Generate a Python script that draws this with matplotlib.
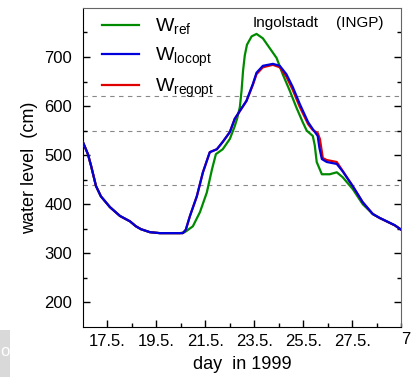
import matplotlib
matplotlib.use("Agg")
import matplotlib.pyplot as plt
from matplotlib.patches import Rectangle

plt.rcParams['font.family'] = ['Liberation Sans', 'DejaVu Sans']

# water level at Ingolstadt, May 1999
day_ref = [16.5, 16.7, 16.83, 17.03, 17.23, 17.6, 18.01, 18.42, 18.66, 18.87, 19.23,
           19.64, 20.05, 20.46, 20.66, 20.99, 21.28, 21.56, 21.77, 21.93, 22.21, 22.5,
           22.7, 22.8, 22.91, 22.98, 23.04, 23.11, 23.2, 23.39, 23.59, 23.85, 24.13,
           24.41, 24.66, 24.95, 25.22, 25.48, 25.64, 25.89, 25.97, 26.05, 26.26, 26.58,
           26.87, 27.11, 27.52, 27.93, 28.34, 28.62, 28.91, 29.24, 29.5]
w_ref = [526, 502, 478, 437, 416, 394, 376, 365, 355, 349, 343,
         341, 341, 341, 343, 355, 384, 424, 471, 502, 512, 533,
         559, 575, 598, 632, 672, 703, 725, 742, 747, 738, 718,
         698, 665, 631, 597, 567, 550, 539, 520, 486, 461, 461,
         465, 455, 431, 400, 380, 372, 365, 357, 348]

day_loc = [16.5, 16.7, 16.83, 17.03, 17.23, 17.6, 18.01, 18.42, 18.66, 18.87, 19.23,
           19.64, 20.05, 20.46, 20.58, 20.7, 20.87, 21.15, 21.4, 21.68, 21.97, 22.21,
           22.5, 22.7, 23.18, 23.44, 23.59, 23.85, 24.26, 24.54, 24.81, 25.07, 25.36,
           25.7, 25.89, 26.09, 26.16, 26.26, 26.46, 26.87, 27.11, 27.52, 27.93, 28.34,
           28.62, 28.91, 29.24, 29.5]
w_loc = [526, 502, 478, 437, 416, 394, 376, 365, 355, 349, 343,
         341, 341, 341, 341, 348, 376, 416, 465, 506, 512, 527,
         547, 574, 611, 645, 668, 682, 686, 682, 665, 639, 604,
         567, 553, 539, 515, 492, 486, 482, 467, 437, 404, 380,
         372, 365, 357, 348]

day_reg = [16.5, 16.7, 16.83, 17.03, 17.23, 17.6, 18.01, 18.42, 18.66, 18.87, 19.23,
           19.64, 20.05, 20.46, 20.58, 20.7, 20.87, 21.15, 21.4, 21.68, 21.97, 22.21,
           22.5, 22.7, 23.18, 23.44, 23.59, 23.85, 24.26, 24.54, 24.81, 25.07, 25.36,
           25.7, 25.89, 26.09, 26.18, 26.3, 26.46, 26.87, 27.11, 27.52, 27.93, 28.34,
           28.62, 28.91, 29.24, 29.5]
w_reg = [526, 502, 478, 437, 416, 394, 376, 365, 355, 349, 343,
         341, 341, 341, 341, 348, 376, 416, 465, 506, 512, 527,
         547, 574, 610, 643, 665, 679, 684, 679, 660, 633, 598,
         563, 551, 545, 533, 494, 490, 486, 468, 437, 404, 380,
         372, 365, 357, 348]

thresholds = [440, 550, 620]
xticks = [17.5, 19.5, 21.5, 23.5, 25.5, 27.5]
xticklabels = ['17.5.', '19.5.', '21.5.', '23.5.', '25.5.', '27.5.']
yticks = [200, 300, 400, 500, 600, 700]

fig = plt.figure(figsize=(4.11, 3.77), dpi=100)
ax = fig.add_axes([0.202, 0.133, 0.774, 0.846])

for t in thresholds:
    ax.axhline(t, color='#888888', lw=0.8, ls=(0, (4, 4)), zorder=1)

ax.plot(day_ref, w_ref, color='#008a00', lw=1.6, label=r'W$_{\mathregular{ref}}$', zorder=3)
ax.plot(day_reg, w_reg, color='#e00000', lw=1.6, label=r'W$_{\mathregular{regopt}}$', zorder=4)
ax.plot(day_loc, w_loc, color='#0000dd', lw=1.6, label=r'W$_{\mathregular{locopt}}$', zorder=5)

ax.set_xlim(16.5, 29.5)
ax.set_ylim(150, 800)
ax.set_xticks(xticks)
ax.set_xticklabels(xticklabels)
ax.set_xticks([18.5, 20.5, 22.5, 24.5, 26.5, 28.5, 29.5], minor=True)
ax.set_yticks(yticks)
ax.set_yticks([250, 350, 450, 550, 650, 750], minor=True)
ax.tick_params(which='both', direction='in', labelsize=12, right=True, top=False)
ax.tick_params(which='major', length=5, width=1)
ax.tick_params(which='minor', length=3, width=1)
ax.tick_params(axis='y', pad=8)
ax.tick_params(axis='x', pad=5)

for s in ['top', 'right']:
    ax.spines[s].set_color('#666666')

ax.set_xlabel('day  in 1999', fontsize=13, labelpad=5)
ax.set_ylabel('water level  (cm)', fontsize=13, labelpad=4)

h, l = ax.get_legend_handles_labels()
order = [0, 2, 1]
ax.legend([h[i] for i in order], [l[i] for i in order], loc='upper left',
          bbox_to_anchor=(0.018, 1.015), frameon=False, fontsize=14,
          handlelength=1.9, handletextpad=0.8, labelspacing=0.42, borderpad=0.2)

fig.text(253 / 411, 1 - 23 / 377, 'Ingolstadt', fontsize=11, va='center', ha='left')
fig.text(383 / 411, 1 - 23 / 377, '(INGP)', fontsize=11, va='center', ha='right')

# fragments of the neighbouring panels at the edges
fig.patches.append(Rectangle((0, 0), 10 / 411, 47 / 377, transform=fig.transFigure,
                             facecolor='#d9d9d9', edgecolor='none'))
fig.text(0.5 / 411, 1 - 352 / 377, 'o', fontsize=12, color='white', va='center', ha='left')
fig.text(410 / 411, 1 - 340 / 377, '7', fontsize=12, va='center', ha='right')

fig.savefig('out.png', dpi=100)
